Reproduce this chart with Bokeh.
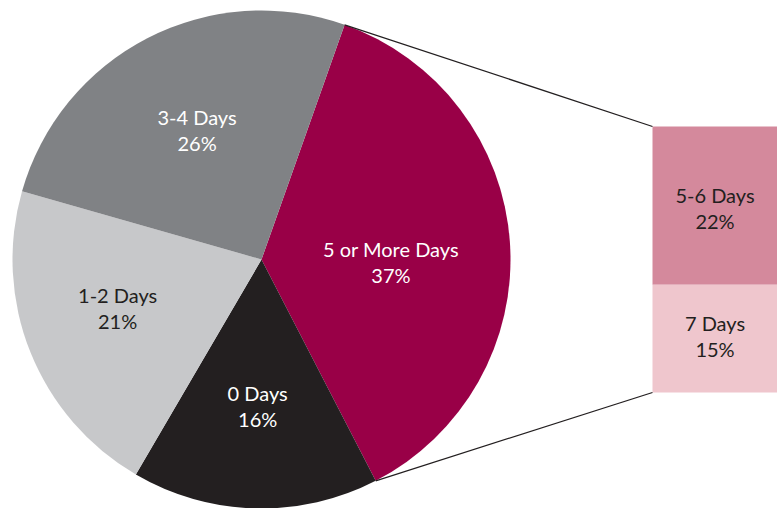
import numpy as np
from bokeh.plotting import figure
from bokeh.models import Range1d
from bokeh.embed import file_html
from bokeh.resources import INLINE
from bokeh.core.properties import value

# ---- data ----
categories = ["5 or More Days", "0 Days", "1-2 Days", "3-4 Days"]
shares = [37, 16, 21, 26]
pie_colors = ["#990047", "#231f20", "#c7c8ca", "#808285"]
pie_text_colors = ["#ffffff", "#ffffff", "#231f20", "#ffffff"]

breakdown_categories = ["5-6 Days", "7 Days"]
breakdown_shares = [22, 15]
breakdown_colors = ["#d4899c", "#efc6cd"]
breakdown_text_colors = ["#231f20", "#231f20"]

# ---- layout ----
W, H = 777, 508
FONT = "Lato"
FS = "20px"
cx, cy, R = 261, 249, 249
first_angle = 19.5          # degrees clockwise from 12 o'clock
label_frac = [0.52, 0.59, 0.61, 0.58]
label_rot = [4.8, 0.0, 3.2, 0.8]   # extra clockwise rotation of label anchors (deg)
box_left, box_right, box_h = 652, 777, 266
line_gap = 13

p = figure(width=W, height=H, output_backend="svg", toolbar_location=None,
           x_range=Range1d(0, W), y_range=Range1d(0, H),
           min_border=0, outline_line_color=None)
p.axis.visible = False
p.grid.visible = False
p.background_fill_color = "white"

sh = np.array(shares, dtype=float)
cum = np.concatenate([[0], np.cumsum(sh)[:-1]])
start_deg = 90 - first_angle - cum * 3.6
end_deg = start_deg - sh * 3.6

p.wedge(x=cx, y=cy, radius=R,
        start_angle=np.radians(start_deg), end_angle=np.radians(end_deg),
        direction="clock", fill_color=pie_colors, line_color=None)

mid = np.radians((start_deg + end_deg) / 2 - np.array(label_rot))
lx = cx + R * np.array(label_frac) * np.cos(mid)
ly = cy + R * np.array(label_frac) * np.sin(mid)
p.text(x=lx, y=ly + line_gap, text=categories, text_color=pie_text_colors,
       text_align="center", text_baseline="middle",
       text_font=value(FONT), text_font_size=FS)
p.text(x=lx, y=ly - line_gap, text=[f"{v}%" for v in shares], text_color=pie_text_colors,
       text_align="center", text_baseline="middle",
       text_font=value(FONT), text_font_size=FS)

# breakdown bar
bs = np.array(breakdown_shares, dtype=float)
scale = box_h / bs.sum()
box_top = cy + box_h / 2
tops = box_top - np.concatenate([[0], np.cumsum(bs)[:-1]]) * scale
bottoms = tops - bs * scale
p.quad(left=box_left, right=box_right, top=tops, bottom=bottoms,
       fill_color=breakdown_colors, line_color=None)
bx = [(box_left + box_right) / 2] * len(bs)
by = (tops + bottoms) / 2 + np.array([-2.0, 3.0])
p.text(x=bx, y=by + line_gap, text=breakdown_categories, text_color=breakdown_text_colors,
       text_align="center", text_baseline="middle",
       text_font=value(FONT), text_font_size=FS)
p.text(x=bx, y=by - line_gap, text=[f"{v}%" for v in breakdown_shares],
       text_color=breakdown_text_colors, text_align="center", text_baseline="middle",
       text_font=value(FONT), text_font_size=FS)

# connector lines
a0 = np.radians(start_deg[0])
a1 = np.radians(end_deg[0])
p.segment(x0=[cx + R * np.cos(a0), cx + R * np.cos(a1)],
          y0=[cy + R * np.sin(a0), cy + R * np.sin(a1)],
          x1=[box_left, box_left], y1=[box_top, bottoms[-1]],
          line_color="#231f20", line_width=1.3)

open("out.html", "w").write(file_html(p, INLINE))
